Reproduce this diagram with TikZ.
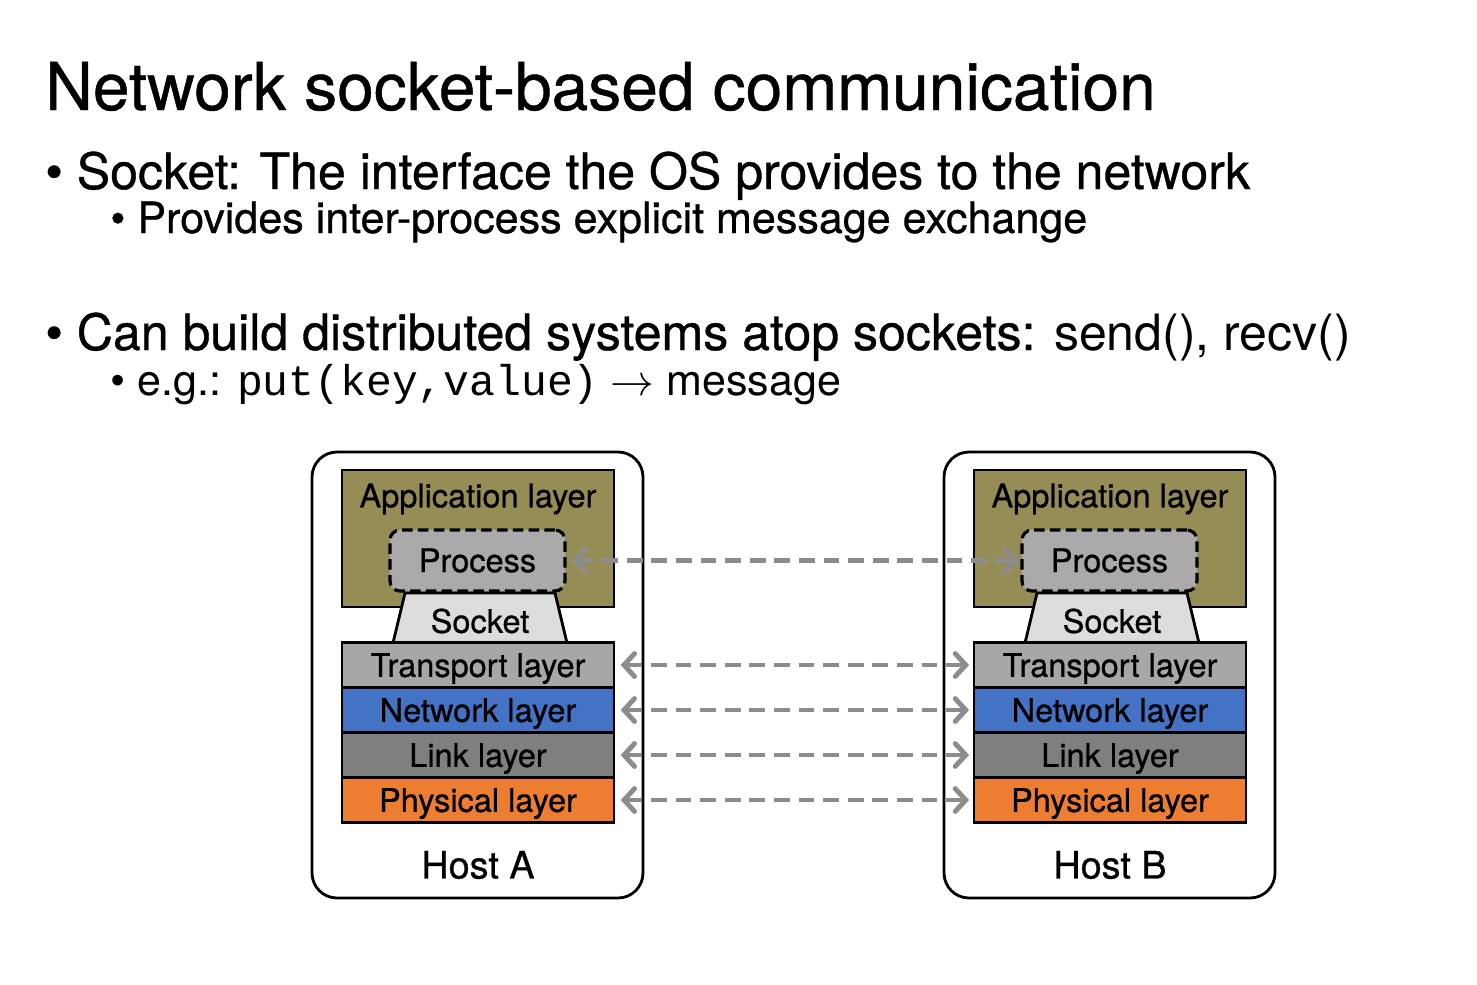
\documentclass[tikz,border=0pt]{standalone}
\usepackage{fontspec}
\setmainfont{TeX Gyre Heros}[FakeBold=0.7]
\newfontfamily\medfont{TeX Gyre Heros}[FakeBold=0.7]
\newfontfamily\lightfont{TeX Gyre Heros}
\newfontfamily\codefont{Liberation Mono}
\usetikzlibrary{positioning, arrows.meta}

\tikzset{
  layer/.style={draw=black, line width=1.6pt, minimum width=5.44cm, minimum height=0.9cm,
    inner sep=0pt, text depth=0pt, font=\medfont\fontsize{18.5}{20}\selectfont},
  host/.style={draw=black, line width=1.6pt, rounded corners=0.5cm},
  peer/.style={draw=gray!90!white, line width=2.8pt, dash pattern=on 9pt off 5pt,
    {Straight Barb[length=6pt, width=13pt, line cap=round]}-{Straight Barb[length=6pt, width=13pt, line cap=round]}},
  txt/.style={anchor=base west, inner sep=0pt}
}
\definecolor{appcol}{HTML}{968C55}
\definecolor{proccol}{HTML}{ABA9AA}
\definecolor{sockcol}{HTML}{DCDCDC}
\definecolor{transcol}{HTML}{A7A7A7}
\definecolor{netcol}{HTML}{4472C4}
\definecolor{linkcol}{HTML}{7F7F7F}
\definecolor{physcol}{HTML}{ED7D31}

\begin{document}
\begin{tikzpicture}[x=0.02cm, y=-0.02cm]
  \useasboundingbox (0,0) rectangle (1477,984);

  % slide text
  \node[txt, font=\medfont\fontsize{37.5}{40}\selectfont] (title) at (45,110) {Network socket-based communication};
  \node[txt, font=\medfont\fontsize{28.5}{32}\selectfont] (b1) at (45,189) {\textbullet\ Socket: The interface the OS provides to the network};
  \node[txt, font=\medfont\fontsize{24.5}{28}\selectfont] (b1a) at (110,233) {\textbullet\ Provides inter-process explicit message exchange};
  \node[txt, font=\medfont\fontsize{28.5}{32}\selectfont] (b2) at (45,350) {\textbullet\ Can build distributed systems atop sockets: {\lightfont send(), recv()}};
  \node[txt, font=\lightfont\fontsize{24.5}{28}\selectfont] (b2a) at (110,395) {\textbullet\ e.g.: {\codefont put(key,value)} $\rightarrow$ message};

  % two hosts
  \foreach \h/\dx in {A/0, B/632} {
    \draw[host] (312+\dx,452) rectangle (643+\dx,898);
    \node[layer, fill=appcol, minimum height=2.74cm] (app\h) at (478+\dx,538.5) {};
    \node[font=\medfont\fontsize{18.5}{20}\selectfont] at (478+\dx,499) {Application layer};
    \node[draw=black, line width=1.8pt, dash pattern=on 6pt off 3pt, rounded corners=0.2cm, fill=proccol,
      minimum width=3.5cm, minimum height=1.22cm, font=\medfont\fontsize{18.5}{20}\selectfont] (proc\h) at (477.5+\dx,560.5) {Process};
    \draw[line width=1.6pt, fill=sockcol] (405+\dx,593) -- (555+\dx,593) -- (567+\dx,643) -- (393+\dx,643) -- cycle;
    \node[font=\medfont\fontsize{18.5}{20}\selectfont] (sock\h) at (480+\dx,621) {Socket};
    \node[layer, fill=transcol] (trans\h) at (478+\dx,665) {Transport layer};
    \node[layer, fill=netcol] (net\h) at (478+\dx,710) {Network layer};
    \node[layer, fill=linkcol] (link\h) at (478+\dx,755) {Link layer};
    \node[layer, fill=physcol] (phys\h) at (478+\dx,800) {Physical layer};
    \node[font=\medfont\fontsize{21.5}{24}\selectfont] (name\h) at (478+\dx,865) {Host \h};
  }

  % peer links
  \draw[peer] ([xshift=3pt]procA.east) -- ([xshift=-1pt]procB.west);
  \draw[peer] ([xshift=3pt]transA.east) -- ([xshift=-2pt]transB.west);
  \draw[peer] ([xshift=3pt]netA.east) -- ([xshift=-2pt]netB.west);
  \draw[peer] ([xshift=3pt]linkA.east) -- ([xshift=-2pt]linkB.west);
  \draw[peer] ([xshift=3pt]physA.east) -- ([xshift=-2pt]physB.west);
\end{tikzpicture}
\end{document}
